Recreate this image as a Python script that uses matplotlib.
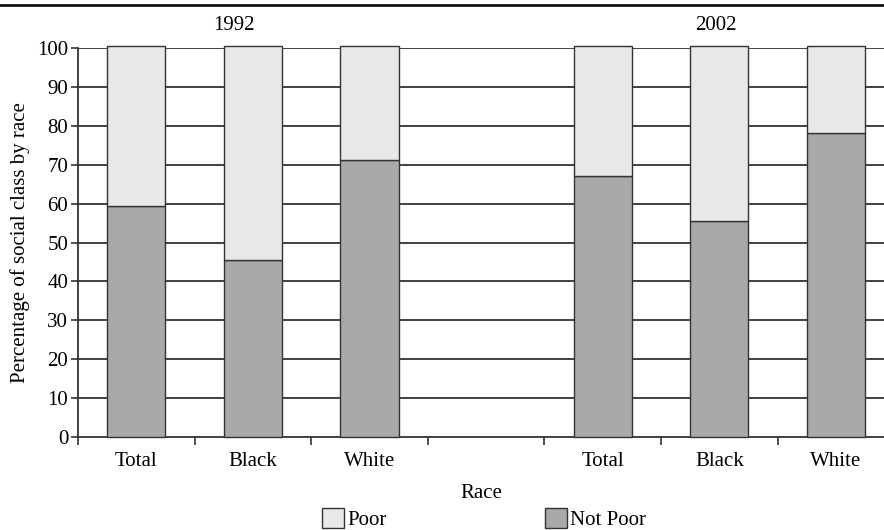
import matplotlib.pyplot as plt
from matplotlib.lines import Line2D
from matplotlib.patches import Patch

# data
years = ['1992', '2002']
races = ['Total', 'Black', 'White']
not_poor_1992 = [59.4, 45.5, 71.3]
poor_1992 = [41.0, 55.0, 29.1]
not_poor_2002 = [67.2, 55.5, 78.2]
poor_2002 = [33.2, 45.0, 22.3]

plt.rcParams['font.family'] = ['Liberation Serif', 'DejaVu Serif']
plt.rcParams['font.size'] = 15

W, H = 884, 530
fig = plt.figure(figsize=(W / 100, H / 100), dpi=100)
ax = fig.add_axes([78 / W, 1 - 437 / H, (W - 78) / W, (437 - 48) / H])

# slots 0-2 for 1992, slot 3 left empty, 4-6 for 2002
pos = [0, 1, 2, 4, 5, 6]
not_poor = not_poor_1992 + not_poor_2002
poor = poor_1992 + poor_2002

c_not = '#a9a9a9'
c_poor = '#e8e8e8'
edge = '#333333'

ax.bar(pos, not_poor, width=0.5, color=c_not, edgecolor=edge, linewidth=1.0,
       zorder=3, clip_on=False)
ax.bar(pos, poor, width=0.5, bottom=not_poor, color=c_poor, edgecolor=edge,
       linewidth=1.0, zorder=3, clip_on=False)

ax.set_ylim(0, 100)
ax.set_xlim(-0.5, (W - 78) / 116.6 - 0.5)
ax.set_yticks(range(0, 101, 10))
for y in range(10, 101, 10):
    ax.axhline(y, color='#333333', linewidth=1.3, zorder=1)

ax.set_xticks(pos)
ax.set_xticklabels(races + races)
ax.set_xticks([-0.5, 0.5, 1.5, 2.5, 3.5, 4.5, 5.5], minor=True)
ax.tick_params(axis='x', which='major', length=0, pad=11)
ax.tick_params(axis='x', which='minor', length=6, width=1.2, color='#333333',
               direction='out')
ax.tick_params(axis='y', length=5, width=1.2, color='#333333', pad=2)

for s in ['top', 'right']:
    ax.spines[s].set_visible(False)
for s in ['left', 'bottom']:
    ax.spines[s].set_color('#333333')
    ax.spines[s].set_linewidth(1.3)

ax.set_ylabel('Percentage of social class by race', labelpad=5)
ax.set_xlabel('Race', labelpad=9)

ax.text(0.84, 1.058, years[0], transform=ax.get_xaxis_transform(),
        ha='center', va='center')
ax.text(4.97, 1.058, years[1], transform=ax.get_xaxis_transform(),
        ha='center', va='center')

fig.add_artist(Line2D([0, 1], [1 - 5 / H, 1 - 5 / H], color='#111111',
                      linewidth=2, transform=fig.transFigure))

handles = [Patch(facecolor=c_poor, edgecolor=edge, linewidth=1.0),
           Patch(facecolor=c_not, edgecolor=edge, linewidth=1.0)]
fig.legend(handles, ['Poor', 'Not Poor'], loc='center', ncol=2,
           bbox_to_anchor=(484 / W, 1 - 519 / H), frameon=False,
           handlelength=1.06, handleheight=1.06, handletextpad=0.15,
           columnspacing=7.6, borderaxespad=0)

fig.savefig('out.png', dpi=100)
